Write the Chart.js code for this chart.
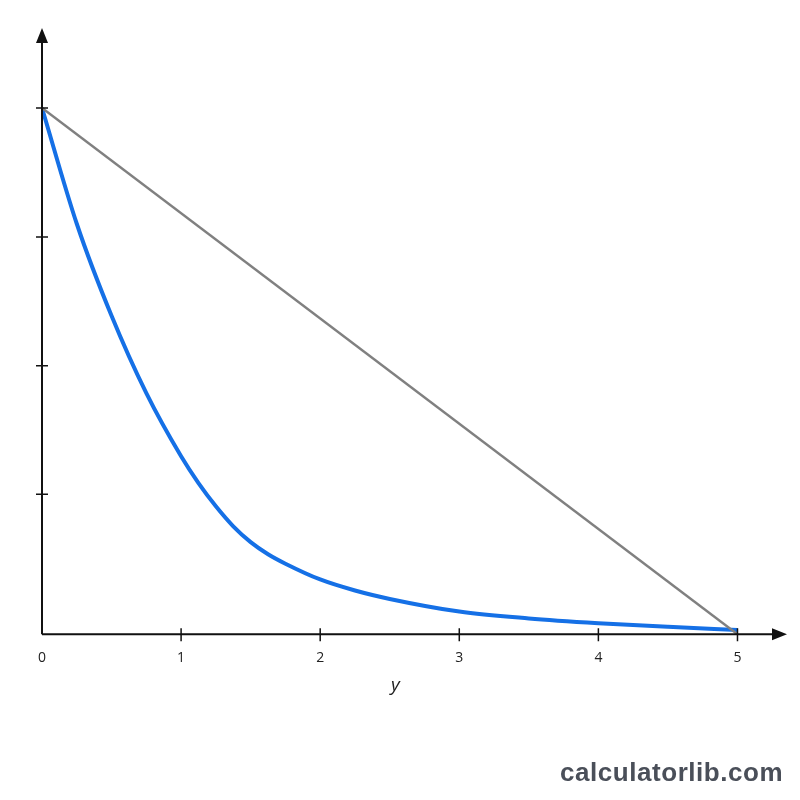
<!DOCTYPE html>
<html>
<head>
<meta charset="utf-8">
<script src="https://cdn.jsdelivr.net/npm/chart.js@4"></script>
<style>
    html, body { margin: 0; padding: 0; background: #ffffff; }
    #wrap { position: relative; width: 800px; height: 800px; }
    #brand {
        position: absolute; left: 560px; top: 759px;
        font-family: "Liberation Sans", Arial, sans-serif; font-weight: bold;
        font-size: 26px; letter-spacing: 0.55px; color: #4a4f59; line-height: 1;
    }
    #xname {
        position: absolute; left: 391px; top: 675px;
        font-family: "Open Sans", sans-serif; font-style: italic;
        font-size: 19px; line-height: 19px; color: #222222;
    }
</style>
</head>
<body>
<div id="wrap">
    <canvas id="chart" width="800" height="800"></canvas>
    <span id="xname">y</span>
    <div id="brand">calculatorlib.com</div>
</div>
<script>
// values
const curveX = [0, 0.25, 0.5, 0.75, 1.0, 1.125, 1.25, 1.375, 1.5, 1.625, 1.75, 2.0, 2.25, 2.5, 3.0, 3.5, 4.0, 4.5, 5.0];
const curveY = [1.0, 0.78, 0.605, 0.458, 0.338, 0.287, 0.243, 0.205, 0.175, 0.152, 0.134, 0.104, 0.083, 0.067, 0.043, 0.030, 0.021, 0.014, 0.008];
const lineX = [0, 5];
const lineY = [1.0, 0];
const xTicks = [0, 1, 2, 3, 4, 5];
const yTicks = [0.266, 0.51, 0.755, 1.0];

function toPoints(xs, ys) {
    return xs.map((x, i) => ({ x: x, y: ys[i] }));
}

// axis lines with arrows and tick marks crossing the axes
const axesPlugin = {
    id: 'axes',
    afterDatasetsDraw(chart) {
        const ctx = chart.ctx;
        const a = chart.chartArea;
        const xs = chart.scales.x;
        const ys = chart.scales.y;
        const ox = xs.getPixelForValue(0);
        const oy = ys.getPixelForValue(0);
        ctx.save();
        ctx.strokeStyle = '#111111';
        ctx.fillStyle = '#111111';
        ctx.lineWidth = 2;
        ctx.beginPath();
        ctx.moveTo(ox, oy);
        ctx.lineTo(a.right - 10, oy);
        ctx.moveTo(ox, oy);
        ctx.lineTo(ox, a.top + 10);
        ctx.stroke();

        ctx.beginPath();
        ctx.moveTo(a.right, oy);
        ctx.lineTo(a.right - 15, oy - 6);
        ctx.lineTo(a.right - 15, oy + 6);
        ctx.closePath();
        ctx.fill();

        ctx.beginPath();
        ctx.moveTo(ox, a.top);
        ctx.lineTo(ox - 6, a.top + 15);
        ctx.lineTo(ox + 6, a.top + 15);
        ctx.closePath();
        ctx.fill();

        ctx.lineWidth = 1.5;
        ctx.beginPath();
        xTicks.forEach((v) => {
            if (v === 0) return;
            const px = xs.getPixelForValue(v);
            ctx.moveTo(px, oy - 6);
            ctx.lineTo(px, oy + 7);
        });
        yTicks.forEach((v) => {
            const py = ys.getPixelForValue(v);
            ctx.moveTo(ox - 6, py);
            ctx.lineTo(ox + 6, py);
        });
        ctx.stroke();
        ctx.restore();
    }
};

new Chart(document.getElementById('chart').getContext('2d'), {
    type: 'scatter',
    data: {
        datasets: [
            {
                data: toPoints(lineX, lineY),
                showLine: true,
                borderColor: '#808080',
                borderWidth: 2.5,
                pointRadius: 0
            },
            {
                data: toPoints(curveX, curveY),
                showLine: true,
                borderColor: '#1570e6',
                borderWidth: 4,
                pointRadius: 0,
                cubicInterpolationMode: 'monotone'
            }
        ]
    },
    options: {
        responsive: false,
        animation: false,
        layout: {
            padding: { left: 42, right: 13, top: 28, bottom: 119 }
        },
        plugins: {
            legend: { display: false },
            tooltip: { enabled: false }
        },
        scales: {
            x: {
                type: 'linear',
                min: 0,
                max: 5.356,
                afterBuildTicks: (scale) => {
                    scale.ticks = xTicks.map((v) => ({ value: v }));
                },
                grid: { display: false, drawTicks: false },
                border: { display: false },
                ticks: {
                    padding: 15,
                    maxRotation: 0,
                    font: { size: 14, family: 'Open Sans' },
                    color: '#222222'
                }
            },
            y: {
                type: 'linear',
                display: false,
                min: 0,
                max: 1.152,
                afterBuildTicks: (scale) => {
                    scale.ticks = yTicks.map((v) => ({ value: v }));
                }
            }
        }
    },
    plugins: [axesPlugin]
});
</script>
</body>
</html>
